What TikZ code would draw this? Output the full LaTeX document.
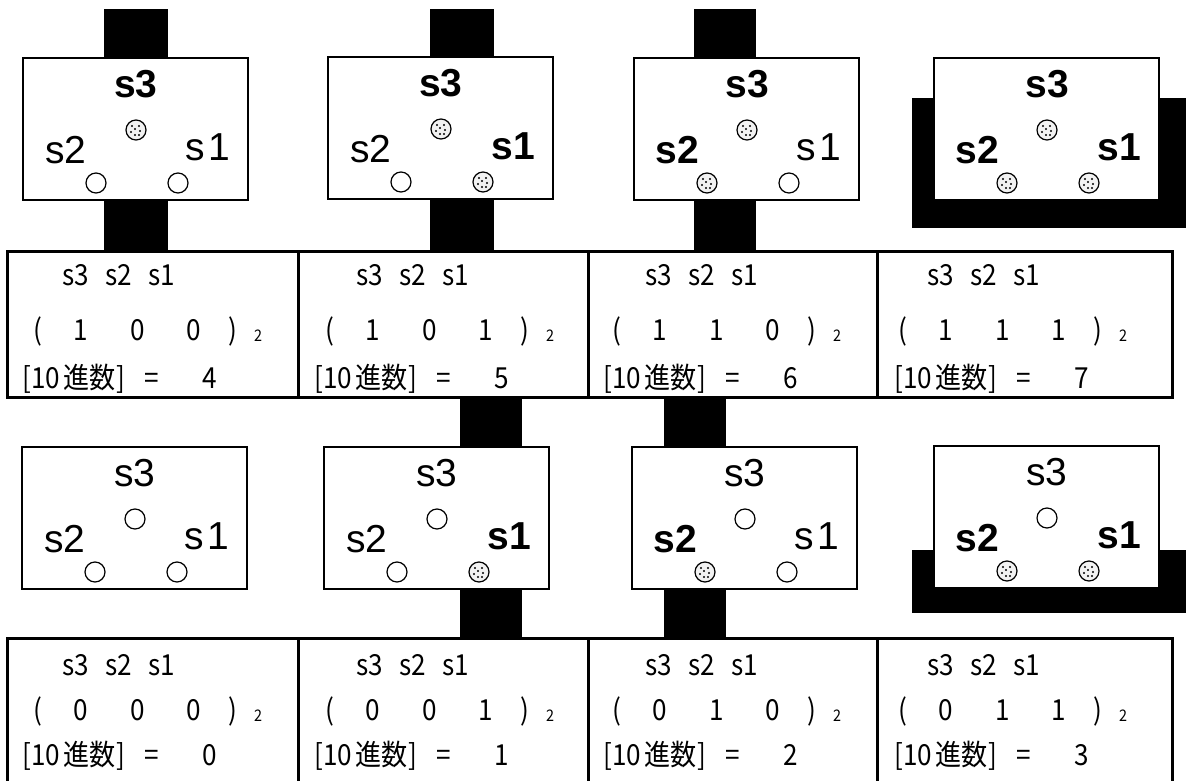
\documentclass[tikz,border=0pt]{standalone}
\usepackage{fontspec}
\setmainfont{Liberation Sans}
\newfontfamily\jpfont[FakeStretch=0.9]{Noto Sans CJK JP}
\usetikzlibrary{calc}
\begin{document}
\begin{tikzpicture}[x=1pt,y=-1pt,
  box/.style={draw, line width=1.5pt, fill=white, minimum width=225pt, minimum height=142pt, inner sep=0pt, outer sep=0pt, anchor=north west},
  cellbox/.style={draw, line width=3pt, minimum height=#1, inner sep=0pt, outer sep=0pt, anchor=north west},
  bar/.style={fill=black},
  lbl/.style={inner sep=0pt, font=\fontsize{39pt}{39pt}\selectfont},
  lblon/.style={inner sep=0pt, font=\fontsize{39pt}{39pt}\selectfont\bfseries},
  sw/.code={\ifnum#1=1\relax\pgfkeysalso{lblon}\else\pgfkeysalso{lbl}\fi},
  cir/.style={circle, draw, line width=1.2pt, minimum size=20pt, inner sep=0pt, fill=white},
  cirOn/.style={cir, fill=gray!10, path picture={
     \foreach \dx/\dy in {-4/-4, 3/-4, -1/-1, 4/1, -5/2, -1/5, 3/5}
       {\fill[black] ($(path picture bounding box.center)+(\dx,\dy)$) circle (1.1);}}},
  cw/.code={\ifnum#1=1\relax\pgfkeysalso{cirOn}\else\pgfkeysalso{cir}\fi},
  tt/.style={inner sep=0pt, font=\jpfont\fontsize{29pt}{29pt}\selectfont},
  ttsub/.style={inner sep=0pt, font=\jpfont\fontsize{16pt}{16pt}\selectfont}
]
\useasboundingbox (0,0) rectangle (1186,781);
\clip (0,0) rectangle (1186,781);

\newcommand\swpanel[6]{%
  \node[box] (#1) at (#2,#3) {};
  \node[sw=#4] (#1-l3) at ($(#1.north west)+(113,26)$) {s3};
  \node[sw=#5] (#1-l2) at ($(#1.north west)+(43,92)$) {s2};
  \node[sw=#6] (#1-l1) at ($(#1.north west)+(185,89)$) {\ifnum#6=1 s1\else s\hspace{3pt}1\fi};
  \node[cw=#4] (#1-c3) at ($(#1.north west)+(113,72)$) {};
  \node[cw=#5] (#1-c2) at ($(#1.north west)+(73,125)$) {};
  \node[cw=#6] (#1-c1) at ($(#1.north west)+(155,125)$) {};
}
\newcommand\tcell[9]{%
  \ifnum#5=1 \def\ya{285}\def\yb{340}\def\yc{388}\else\def\ya{675}\def\yb{720}\def\yc{765}\fi
  \node[tt, anchor=base west] (#1-h3) at (#2-1,\ya) {s3};
  \node[tt, anchor=base west] (#1-h2) at (#2+42,\ya) {s2};
  \node[tt, anchor=base west] (#1-h1) at (#2+85,\ya) {s1};
  \node[tt, anchor=base west] (#1-po) at (#3,\yb) {(};
  \node[tt, anchor=base] (#1-d3) at (#3+48,\yb) {#6};
  \node[tt, anchor=base] (#1-d2) at (#3+105,\yb) {#7};
  \node[tt, anchor=base] (#1-d1) at (#3+161,\yb) {#8};
  \node[tt, anchor=base] (#1-pc) at (#3+200,\yb) {)};
  \node[ttsub, anchor=base] (#1-sb) at (#3+225,\yb+1) {2};
  \node[tt, anchor=base west] (#1-da) at (#4-2,\yc) {[10};
  \node[tt, anchor=base west] (#1-db) at (#4+39,\yc) {進数};
  \node[tt, anchor=base west] (#1-dc) at (#4+92,\yc) {]};
  \node[tt, anchor=base west] (#1-dd) at (#4+120,\yc) {=};
  \node[tt, anchor=base] (#1-dv) at (#4+186,\yc) {#9};
}

% black bars and frames behind the switches
\fill[bar] (104,9) rectangle (168,251);
\fill[bar] (430,9) rectangle (494,251);
\fill[bar] (694,9) rectangle (756,251);
\fill[bar] (912,98) rectangle (1186,228);
\fill[bar] (460,397) rectangle (522,638);
\fill[bar] (664,397) rectangle (726,638);
\fill[bar] (912,550) rectangle (1186,613);

% table cells
\node[cellbox=146pt, minimum width=291pt] (c11) at (7,251) {};
\node[cellbox=146pt, minimum width=290pt] (c12) at (298,251) {};
\node[cellbox=146pt, minimum width=289pt] (c13) at (588,251) {};
\node[cellbox=146pt, minimum width=295pt] (c14) at (877,251) {};
\node[cellbox=170pt, minimum width=291pt] (c21) at (7,638) {};
\node[cellbox=170pt, minimum width=290pt] (c22) at (298,638) {};
\node[cellbox=170pt, minimum width=289pt] (c23) at (588,638) {};
\node[cellbox=170pt, minimum width=295pt] (c24) at (877,638) {};

% switch panels
\swpanel{p1}{23}{58}{1}{0}{0}
\swpanel{p2}{328}{57}{1}{0}{1}
\swpanel{p3}{634}{58}{1}{1}{0}
\swpanel{p4}{934}{58}{1}{1}{1}
\swpanel{p5}{22}{447}{0}{0}{0}
\swpanel{p6}{324}{447}{0}{0}{1}
\swpanel{p7}{632}{447}{0}{1}{0}
\swpanel{p8}{934}{446}{0}{1}{1}

% table texts
\tcell{t1}{63}{33}{24}{1}{1}{0}{0}{4}
\tcell{t2}{357}{325}{316}{1}{1}{0}{1}{5}
\tcell{t3}{646}{612}{605}{1}{1}{1}{0}{6}
\tcell{t4}{928}{898}{896}{1}{1}{1}{1}{7}
\tcell{t5}{63}{33}{24}{2}{0}{0}{0}{0}
\tcell{t6}{357}{325}{316}{2}{0}{0}{1}{1}
\tcell{t7}{646}{612}{605}{2}{0}{1}{0}{2}
\tcell{t8}{928}{898}{896}{2}{0}{1}{1}{3}
\end{tikzpicture}
\end{document}
